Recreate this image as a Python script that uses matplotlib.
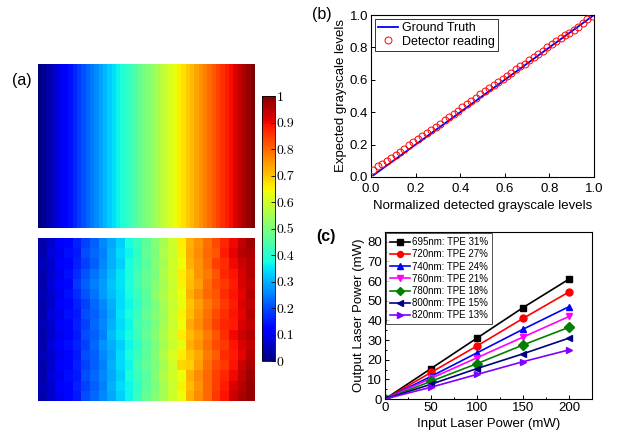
import matplotlib
matplotlib.use("Agg")
import matplotlib.pyplot as plt
import numpy as np
from matplotlib.cm import ScalarMappable
from matplotlib.colors import Normalize
from matplotlib.ticker import MultipleLocator, FormatStrFormatter

plt.rcParams['font.family'] = ['Liberation Sans', 'DejaVu Sans']

# ---------------- data ----------------
# (a) top: ground-truth grayscale levels (50 columns)
truth_levels = [0.000, 0.020, 0.041, 0.061, 0.082, 0.102, 0.122, 0.143, 0.163, 0.184,
                0.204, 0.224, 0.245, 0.265, 0.286, 0.306, 0.327, 0.347, 0.367, 0.388,
                0.408, 0.429, 0.449, 0.469, 0.490, 0.510, 0.531, 0.551, 0.571, 0.592,
                0.612, 0.633, 0.653, 0.673, 0.694, 0.714, 0.735, 0.755, 0.776, 0.796,
                0.816, 0.837, 0.857, 0.878, 0.898, 0.918, 0.939, 0.959, 0.980, 1.000]

# (a) bottom: detected map (rows top->bottom)
detected_map = [
    [0.04,0.07,0.11,0.13,0.16,0.19,0.22,0.26,0.29,0.33,0.38,0.42,0.46,0.51,0.55,0.60,0.66,0.72,0.75,0.79,0.83,0.87,0.90,0.94,0.97],
    [0.04,0.08,0.10,0.14,0.15,0.20,0.23,0.25,0.30,0.34,0.37,0.41,0.47,0.50,0.56,0.59,0.65,0.73,0.76,0.80,0.82,0.88,0.91,0.95,0.96],
    [0.05,0.07,0.11,0.13,0.16,0.19,0.22,0.26,0.30,0.33,0.38,0.42,0.46,0.51,0.55,0.60,0.64,0.72,0.75,0.79,0.84,0.86,0.90,0.93,0.95],
    [0.04,0.07,0.10,0.14,0.17,0.21,0.24,0.27,0.31,0.35,0.38,0.43,0.47,0.50,0.56,0.60,0.66,0.70,0.75,0.78,0.82,0.87,0.89,0.92,0.95],
    [0.04,0.08,0.11,0.13,0.18,0.22,0.25,0.28,0.32,0.35,0.39,0.43,0.47,0.51,0.55,0.59,0.65,0.71,0.74,0.79,0.83,0.85,0.88,0.92,0.94],
    [0.05,0.07,0.10,0.14,0.17,0.21,0.24,0.28,0.31,0.34,0.38,0.42,0.46,0.52,0.56,0.60,0.64,0.72,0.76,0.80,0.82,0.86,0.89,0.91,0.95],
    [0.04,0.07,0.11,0.13,0.16,0.19,0.23,0.26,0.30,0.34,0.37,0.41,0.46,0.50,0.55,0.59,0.63,0.70,0.74,0.78,0.81,0.85,0.88,0.92,0.94],
    [0.04,0.08,0.10,0.14,0.15,0.20,0.22,0.25,0.29,0.35,0.38,0.42,0.47,0.51,0.54,0.60,0.65,0.71,0.75,0.79,0.83,0.86,0.89,0.91,0.95],
    [0.05,0.07,0.11,0.13,0.16,0.19,0.23,0.26,0.30,0.34,0.37,0.43,0.46,0.50,0.55,0.59,0.64,0.73,0.76,0.80,0.84,0.87,0.88,0.92,0.94],
    [0.04,0.07,0.10,0.13,0.15,0.20,0.22,0.25,0.31,0.35,0.38,0.42,0.47,0.51,0.56,0.60,0.66,0.71,0.74,0.78,0.82,0.86,0.90,0.93,0.95],
    [0.04,0.08,0.11,0.14,0.16,0.19,0.23,0.27,0.30,0.33,0.37,0.41,0.46,0.50,0.55,0.59,0.63,0.72,0.75,0.79,0.83,0.85,0.89,0.92,0.94],
    [0.05,0.07,0.10,0.13,0.15,0.20,0.22,0.26,0.29,0.34,0.38,0.42,0.46,0.51,0.56,0.61,0.66,0.70,0.73,0.78,0.81,0.86,0.88,0.91,0.95],
    [0.04,0.07,0.11,0.13,0.16,0.19,0.22,0.25,0.30,0.34,0.37,0.43,0.47,0.50,0.55,0.60,0.68,0.69,0.74,0.79,0.83,0.85,0.89,0.93,0.96],
    [0.04,0.08,0.10,0.14,0.15,0.20,0.23,0.26,0.29,0.33,0.38,0.42,0.46,0.51,0.56,0.60,0.64,0.72,0.76,0.80,0.84,0.87,0.90,0.94,0.97],
    [0.05,0.07,0.11,0.13,0.16,0.19,0.22,0.25,0.30,0.34,0.37,0.41,0.46,0.50,0.55,0.59,0.65,0.71,0.75,0.80,0.84,0.88,0.92,0.95,0.98],
    [0.04,0.07,0.10,0.13,0.15,0.20,0.23,0.26,0.29,0.33,0.37,0.42,0.47,0.51,0.55,0.60,0.64,0.72,0.76,0.80,0.85,0.89,0.93,0.96,0.98],
]

colorbar_ticks = [0, 0.1, 0.2, 0.3, 0.4, 0.5, 0.6, 0.7, 0.8, 0.9, 1]
colorbar_labels = ['0', '0.1', '0.2', '0.3', '0.4', '0.5', '0.6', '0.7', '0.8', '0.9', '1']

# (b)
gt_x = [0.01, 1.0]
gt_y = [0.01, 1.0]
det_x = [0.01, 0.03, 0.05, 0.07, 0.09, 0.11, 0.13, 0.15, 0.17, 0.19,
         0.21, 0.23, 0.25, 0.27, 0.29, 0.31, 0.33, 0.35, 0.37, 0.39,
         0.41, 0.43, 0.45, 0.47, 0.49, 0.51, 0.53, 0.55, 0.57, 0.59,
         0.61, 0.63, 0.65, 0.67, 0.69, 0.71, 0.73, 0.75, 0.77, 0.79,
         0.81, 0.83, 0.85, 0.87, 0.89, 0.91, 0.93, 0.95, 0.97, 0.99]
det_y = [0.045, 0.065, 0.080, 0.100, 0.120, 0.135, 0.155, 0.175, 0.195, 0.215,
         0.235, 0.255, 0.270, 0.290, 0.310, 0.330, 0.350, 0.370, 0.390, 0.410,
         0.430, 0.450, 0.470, 0.490, 0.510, 0.530, 0.550, 0.565, 0.585, 0.605,
         0.625, 0.645, 0.665, 0.685, 0.700, 0.720, 0.740, 0.760, 0.780, 0.800,
         0.820, 0.840, 0.860, 0.875, 0.890, 0.905, 0.925, 0.950, 0.975, 0.995]

# (c)
input_power = [0, 50, 100, 150, 200]
series_labels = ['695nm: TPE 31%', '720nm: TPE 27%', '740nm: TPE 24%', '760nm: TPE 21%',
                 '780nm: TPE 18%', '800nm: TPE 15%', '820nm: TPE 13%']
output_power = [
    [0, 15.5, 31.0, 46.5, 61.0],
    [0, 13.5, 27.0, 41.0, 54.5],
    [0, 11.5, 23.5, 35.5, 47.0],
    [0, 10.5, 21.0, 31.5, 42.0],
    [0, 9.0, 18.0, 27.5, 36.5],
    [0, 7.5, 15.5, 23.0, 31.0],
    [0, 6.0, 12.5, 19.0, 25.0],
]
series_colors = ['#000000', '#ff0000', '#0000ff', '#ff00ff', '#008000', '#000080', '#8000ff']
series_markers = ['s', 'o', '^', 'v', 'D', '<', '>']

# ---------------- figure ----------------
W, H = 620, 446
fig = plt.figure(figsize=(W / 100, H / 100), dpi=100)

def box(x0, y0, x1, y1):
    return [x0 / W, 1 - y1 / H, (x1 - x0) / W, (y1 - y0) / H]

norm = Normalize(0, 1)
cmap = plt.get_cmap('jet')

ax_top = fig.add_axes(box(38, 64, 255, 228))
ax_top.imshow(np.array([truth_levels]), cmap=cmap, norm=norm, aspect='auto',
              interpolation='nearest')
ax_top.axis('off')

ax_bot = fig.add_axes(box(38, 238, 255, 401))
ax_bot.imshow(np.array(detected_map), cmap=cmap, norm=norm, aspect='auto',
              interpolation='nearest')
ax_bot.axis('off')

cax = fig.add_axes(box(262, 96, 275, 361))
cb = fig.colorbar(ScalarMappable(norm=norm, cmap=cmap), cax=cax, ticks=colorbar_ticks)
cb.ax.set_yticklabels(colorbar_labels, fontfamily='cmr10', fontsize=10)
cb.ax.tick_params(direction='in', length=3, width=0.6, pad=1)
cb.outline.set_linewidth(0.6)

fig.text(12 / W, 1 - 81 / H, '(a)', fontsize=11.5, va='center', ha='left')

# (b)
axb = fig.add_axes(box(371, 15, 594, 177))
axb.plot(gt_x, gt_y, color='#0000ff', lw=1.3, label='Ground Truth', zorder=2)
axb.plot(det_x, det_y, 'o', mfc='none', mec='#ff0000', ms=5, mew=0.7,
         label='Detector reading', zorder=3)
axb.set_xlim(0, 1)
axb.set_ylim(0, 1)
axb.xaxis.set_major_locator(MultipleLocator(0.2))
axb.yaxis.set_major_locator(MultipleLocator(0.2))
axb.xaxis.set_major_formatter(FormatStrFormatter('%.1f'))
axb.yaxis.set_major_formatter(FormatStrFormatter('%.1f'))
axb.tick_params(direction='in', length=3, width=0.7, labelsize=9.5)
axb.tick_params(axis='x', pad=4)
axb.tick_params(axis='y', pad=2)
for s in axb.spines.values():
    s.set_linewidth(0.8)
axb.set_xlabel('Normalized detected grayscale levels', fontsize=9.5, labelpad=4)
axb.set_ylabel('Expected grayscale levels', fontsize=9.5, labelpad=2)
lg = axb.legend(loc='upper left', fontsize=9, frameon=True, fancybox=False,
                edgecolor='black', handlelength=1.6, handletextpad=0.3,
                borderpad=0.25, labelspacing=0.15, borderaxespad=0.3)
lg.get_frame().set_linewidth(0.7)
fig.text(312 / W, 1 - 15 / H, '(b)', fontsize=11.5, va='center', ha='left')

# (c)
axc = fig.add_axes(box(385, 232, 592, 399))
for ys, lab, col, mk in zip(output_power, series_labels, series_colors, series_markers):
    axc.plot(input_power, ys, '-', color=col, marker=mk, ms=5, lw=1.2, label=lab)
axc.set_xlim(0, 225)
axc.set_ylim(0, 85)
axc.xaxis.set_major_locator(MultipleLocator(50))
axc.xaxis.set_minor_locator(MultipleLocator(25))
axc.yaxis.set_major_locator(MultipleLocator(10))
axc.yaxis.set_minor_locator(MultipleLocator(5))
axc.tick_params(which='both', direction='in', width=0.7, labelsize=9.5, pad=2)
axc.tick_params(which='major', length=3)
axc.tick_params(which='minor', length=1.5)
for s in axc.spines.values():
    s.set_linewidth(0.8)
axc.set_xlabel('Input Laser Power (mW)', fontsize=9.5, labelpad=3)
axc.set_ylabel('Output Laser Power (mW)', fontsize=9.5, labelpad=2)
lgc = axc.legend(loc='upper left', fontsize=7, frameon=True, fancybox=False,
                 edgecolor='black', handlelength=2.0, handletextpad=0.2,
                 borderpad=0.4, labelspacing=0.22, borderaxespad=0.15, markerscale=0.85)
lgc.get_frame().set_linewidth(0.6)
fig.text(316 / W, 1 - 237 / H, '(c)', fontsize=11.5, fontweight='bold', va='center', ha='left')

fig.savefig('out.png', dpi=100)
